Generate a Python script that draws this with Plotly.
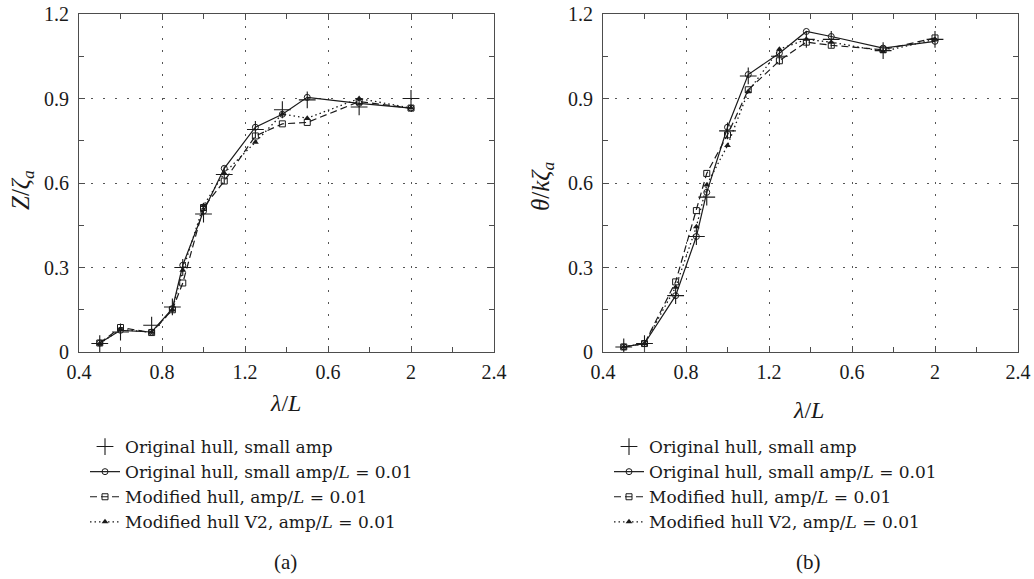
import plotly.graph_objects as go

# ---------------- data ----------------
lam = [0.5, 0.6, 0.75, 0.85, 0.9, 1.0, 1.1, 1.25, 1.38, 1.5, 1.75, 2.0]

series_names = [
    "Original hull, small amp",
    "Original hull, small amp/<i>L</i> = 0.01",
    "Modified hull, amp/<i>L</i> = 0.01",
    "Modified hull V2, amp/<i>L</i> = 0.01",
]

# (a) heave  Z / zeta_a
heave_orig_small = [0.03, 0.071, 0.095, 0.16, 0.30, 0.49, 0.63, 0.79, 0.86, 0.895, 0.87, 0.90]
heave_orig_amp = [0.032, 0.077, 0.071, 0.154, 0.308, 0.50, 0.652, 0.798, 0.844, 0.904, 0.883, 0.866]
heave_mod = [0.032, 0.087, 0.069, 0.15, 0.245, 0.513, 0.607, 0.767, 0.81, 0.815, 0.889, 0.866]
heave_mod_v2 = [0.03, 0.08, 0.07, 0.15, 0.29, 0.52, 0.635, 0.745, 0.845, 0.83, 0.90, 0.866]

# (b) pitch  theta / k zeta_a
pitch_orig_small = [0.018, 0.03, 0.20, 0.41, 0.55, 0.785, 0.98, 1.05, 1.11, 1.11, 1.07, 1.11]
pitch_orig_amp = [0.018, 0.03, 0.20, 0.41, 0.567, 0.798, 0.985, 1.061, 1.138, 1.12, 1.079, 1.103]
pitch_mod = [0.018, 0.03, 0.249, 0.502, 0.634, 0.771, 0.931, 1.034, 1.10, 1.089, 1.073, 1.115]
pitch_mod_v2 = [0.018, 0.03, 0.23, 0.445, 0.593, 0.733, 0.925, 1.075, 1.11, 1.10, 1.067, 1.11]

x_tick_vals = [0.4, 0.8, 1.2, 1.6, 2.0, 2.4]
x_tick_text = ["0.4", "0.8", "1.2", "0.6", "2", "2.4"]
y_tick_vals = [0, 0.3, 0.6, 0.9, 1.2]
y_tick_text = ["0", "0.3", "0.6", "0.9", "1.2"]

# ---------------- style ----------------
FONT = "Liberation Serif"
LEG_FONT = "DejaVu Serif"
INK = "#1a1a1a"
AXC = "#4d4d4d"
W, H = 1034, 579

def px(x):                  # screen x -> paper fraction
    return x / W

def py(y):                  # screen y -> paper fraction
    return 1 - y / H

styles = [
    dict(mode="markers", marker=dict(symbol="cross-thin-open", size=12, line=dict(width=1.1, color=INK), color=INK)),
    dict(mode="lines+markers", line=dict(color=INK, width=1.2, dash="solid"),
         marker=dict(symbol="circle-open", size=6, color=INK, line=dict(width=1, color=INK))),
    dict(mode="lines+markers", line=dict(color=INK, width=1.2, dash="7px,4px"),
         marker=dict(symbol="square-open", size=6, color=INK, line=dict(width=1, color=INK))),
    dict(mode="lines+markers", line=dict(color=INK, width=1.3, dash="1.5px,3px"),
         marker=dict(symbol="triangle-up", size=6, color=INK, line=dict(width=0))),
]

fig = go.Figure()

panels = [
    ("x", "y", "legend", [heave_orig_small, heave_orig_amp, heave_mod, heave_mod_v2]),
    ("x2", "y2", "legend2", [pitch_orig_small, pitch_orig_amp, pitch_mod, pitch_mod_v2]),
]
draw_order = [3, 2, 1, 0]
for xa, ya, lg, data in panels:
    for i in draw_order:
        fig.add_trace(go.Scatter(
            x=lam, y=data[i], name=series_names[i], xaxis=xa, yaxis=ya,
            legend=lg, legendrank=i + 1, **styles[i]))

def xaxis_style(domain, anchor):
    return dict(
        domain=domain, anchor=anchor, range=[0.4, 2.4],
        tickmode="array", tickvals=x_tick_vals, ticktext=x_tick_text,
        showline=True, linecolor=AXC, linewidth=1.2, mirror="ticks",
        ticks="inside", ticklen=6, tickcolor=AXC, tickwidth=1,
        minor=dict(tickmode="linear", tick0=0.4, dtick=0.2, ticks="inside",
                   ticklen=5, tickcolor=AXC, showgrid=False),
        showgrid=True, gridcolor="#555555", griddash="1.5px,10.5px", gridwidth=1.2,
        zeroline=False, automargin=False, ticklabelstandoff=2,
        ticklabeloverflow="allow",
        tickfont=dict(family=FONT, size=20, color=INK),
    )

def yaxis_style(domain, anchor):
    return dict(
        domain=domain, anchor=anchor, range=[0, 1.2],
        tickmode="array", tickvals=y_tick_vals, ticktext=y_tick_text,
        showline=True, linecolor=AXC, linewidth=1.2, mirror="ticks",
        ticks="inside", ticklen=6, tickcolor=AXC, tickwidth=1,
        minor=dict(tickmode="linear", tick0=0, dtick=0.15, ticks="inside",
                   ticklen=5, tickcolor=AXC, showgrid=False),
        showgrid=True, gridcolor="#555555", griddash="1.5px,10.5px", gridwidth=1.2,
        zeroline=False, automargin=False, ticklabelstandoff=5,
        ticklabeloverflow="allow",
        tickfont=dict(family=FONT, size=20, color=INK),
    )

ydom = [py(352), py(14)]
legend_common = dict(
    yanchor="top", xanchor="left", bgcolor="rgba(0,0,0,0)",
    font=dict(family=LEG_FONT, size=17, color=INK), itemwidth=30, tracegroupgap=0,
    traceorder="normal", orientation="v",
)

def ann(text, x, y, size, angle=0):
    return dict(text=text, x=px(x), y=py(y), xref="paper", yref="paper",
                xanchor="center", yanchor="middle", showarrow=False, textangle=angle,
                font=dict(family=FONT, size=size, color=INK))

fig.update_layout(
    width=W, height=H,
    margin=dict(l=0, r=0, t=0, b=0),
    paper_bgcolor="white", plot_bgcolor="white",
    font=dict(family=FONT, size=19, color=INK),
    xaxis=xaxis_style([px(79), px(494)], "y"),
    yaxis=yaxis_style(ydom, "x"),
    xaxis2=xaxis_style([px(603), px(1018)], "y2"),
    yaxis2=yaxis_style(ydom, "x2"),
    legend=dict(x=px(85), y=py(429), **legend_common),
    legend2=dict(x=px(609), y=py(429), **legend_common),
    annotations=[
        ann("<i>Z</i>/<i>ζ</i><sub><i>a</i></sub>", 22, 190, 25, -90),
        ann("<i>θ</i>/<i>kζ</i><sub><i>a</i></sub>", 542, 187, 25, -90),
        ann("<i>λ</i>/<i>L</i>", 285, 403, 24),
        ann("<i>λ</i>/<i>L</i>", 808, 410, 24),
        ann("(a)", 285, 562, 21),
        ann("(b)", 808, 562, 21),
    ],
)

fig.write_html(
    "out.html",
    config={"displayModeBar": False},
    post_script="document.body.style.margin='0';document.body.style.overflow='hidden';",
)
